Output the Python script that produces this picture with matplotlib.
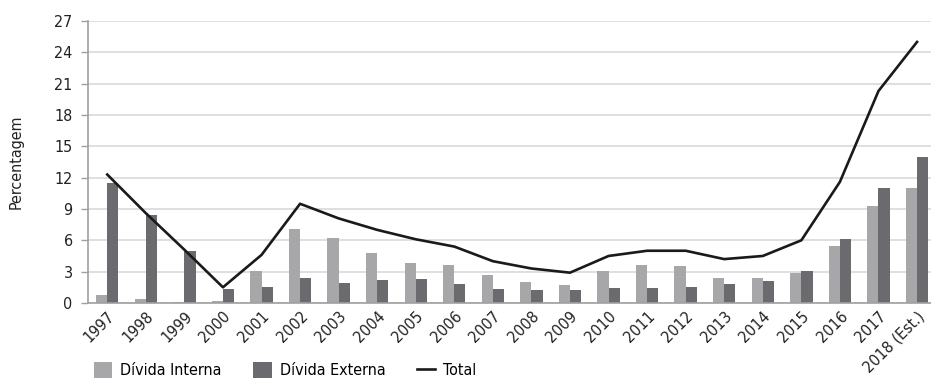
import matplotlib
matplotlib.use("Agg")
import matplotlib.pyplot as plt
from matplotlib import font_manager
import numpy as np

years = ["1997", "1998", "1999", "2000", "2001", "2002", "2003", "2004", "2005",
         "2006", "2007", "2008", "2009", "2010", "2011", "2012", "2013", "2014",
         "2015", "2016", "2017", "2018 (Est.)"]
divida_interna = [0.8, 0.4, 0.1, 0.2, 3.1, 7.1, 6.2, 4.8, 3.8, 3.6, 2.7, 2.0, 1.7,
                  3.1, 3.6, 3.5, 2.4, 2.4, 2.9, 5.5, 9.3, 11.0]
divida_externa = [11.5, 8.4, 5.0, 1.3, 1.5, 2.4, 1.9, 2.2, 2.3, 1.8, 1.3, 1.2, 1.2,
                  1.4, 1.4, 1.5, 1.8, 2.1, 3.1, 6.1, 11.0, 14.0]
total = [12.3, 8.6, 5.1, 1.5, 4.6, 9.5, 8.1, 7.0, 6.1, 5.4, 4.0, 3.3, 2.9,
         4.5, 5.0, 5.0, 4.2, 4.5, 6.0, 11.6, 20.3, 25.0]
yticks = list(range(0, 28, 3))

# Prefer a narrow face for the labels when one is installed
fonts = font_manager.fontManager.ttflist
names = {f.name for f in fonts}
condensed = [f for f in fonts if f.name == "DejaVu Sans" and
             str(f.stretch) in ("condensed", "semi-condensed", "500", "75", "87")]
if "Liberation Sans Narrow" in names:
    plt.rcParams["font.family"] = ["Liberation Sans Narrow", "DejaVu Sans"]
    fs = 12.5
elif condensed:
    plt.rcParams["font.family"] = ["DejaVu Sans"]
    plt.rcParams["font.stretch"] = "condensed"
    fs = 11.5
else:
    plt.rcParams["font.family"] = ["DejaVu Sans"]
    fs = 11

c_int = "#a7a7aa"
c_ext = "#6b6b6f"
c_grid = "#d9d9d9"
c_axis = "#a0a0a0"
c_text = "#222222"

fig = plt.figure(figsize=(9.31, 3.83), dpi=100)
ax = fig.add_axes([0.0945, 0.209, 0.905, 0.736])

x = np.arange(len(years))
w = 0.29
b1 = ax.bar(x - w / 2, divida_interna, width=w, color=c_int, label="Dívida Interna", zorder=2)
b2 = ax.bar(x + w / 2, divida_externa, width=w, color=c_ext, label="Dívida Externa", zorder=2)
ln, = ax.plot(x, total, color="#1a1a1a", lw=1.9, label="Total", zorder=3)

ax.set_ylim(0, 27)
ax.set_xlim(-0.5, len(years) - 0.65)
ax.set_yticks(yticks)
ax.set_yticklabels([str(v) for v in yticks], fontsize=fs, color=c_text)
ax.set_xticks(x)
ax.set_xticklabels(years, rotation=45, ha="right", rotation_mode="anchor",
                   fontsize=fs, color=c_text)
ax.tick_params(axis="x", length=0, pad=4)
ax.tick_params(axis="y", length=5, color=c_axis, width=1, pad=6)
ax.yaxis.grid(True, color=c_grid, lw=1.2, zorder=0)
ax.set_axisbelow(True)
for s in ["top", "right"]:
    ax.spines[s].set_visible(False)
for s in ["left", "bottom"]:
    ax.spines[s].set_color(c_axis)
    ax.spines[s].set_linewidth(1.2)

ax.set_ylabel("Percentagem", fontsize=fs, color=c_text, labelpad=22)

fig.legend([b1, b2, ln], ["Dívida Interna", "Dívida Externa", "Total"],
           loc="lower left", bbox_to_anchor=(0.085, -0.025), ncol=3, frameon=False,
           fontsize=fs, handlelength=1.15, handleheight=1.15, columnspacing=2.0,
           handletextpad=0.5)

fig.savefig("out.png", dpi=100)
